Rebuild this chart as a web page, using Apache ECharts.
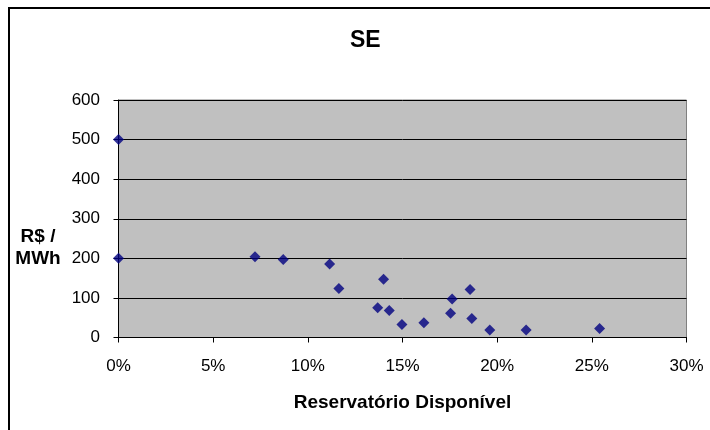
<!DOCTYPE html>
<html>
<head>
<meta charset="utf-8">
<script src="https://cdn.jsdelivr.net/npm/echarts@6/dist/echarts.min.js"></script>
<style>
  html, body { margin: 0; padding: 0; background: #fff; }
  #chart { width: 710px; height: 430px; }
</style>
</head>
<body>
<div id="chart"></div>
<script>
// Reservoir availability (fraction) vs. price (R$/MWh), SE subsystem
const reservatorio = [0.0, 0.0, 0.0721, 0.0870, 0.1115, 0.1164, 0.1369, 0.1400, 0.1430,
                      0.1497, 0.1613, 0.1754, 0.1762, 0.1857, 0.1866, 0.1961, 0.2153, 0.2541];
const preco = [500, 200, 204, 197, 186, 124, 75, 147, 68,
               33, 37, 61, 97, 121, 48, 19, 19, 23];
const yTicks = [0, 100, 200, 300, 400, 500, 600];

const points = reservatorio.map((x, i) => [x, preco[i]]);
const font = 'Liberation Sans, Arial, sans-serif';

const chart = echarts.init(document.getElementById('chart'), null, { renderer: 'canvas' });
chart.setOption({
  animation: false,
  backgroundColor: '#ffffff',
  title: {
    text: 'SE',
    left: 345,
    top: 24,
    textStyle: { fontFamily: font, fontSize: 23, fontWeight: 'bold', color: '#000' }
  },
  graphic: [
    {
      type: 'rect',
      shape: { x: 9, y: 8, width: 900, height: 600 },
      style: { fill: 'none', stroke: '#000', lineWidth: 2 },
      silent: true
    },
    {
      type: 'text',
      style: {
        x: 38,
        y: 247.5,
        text: 'R$ /\nMWh',
        fontFamily: font,
        fontSize: 19,
        fontWeight: 'bold',
        fill: '#000',
        align: 'center',
        verticalAlign: 'middle',
        lineHeight: 22
      }
    }
  ],
  grid: {
    left: 118.5,
    right: 23.5,
    top: 100,
    bottom: 92.5,
    show: true,
    backgroundColor: '#c0c0c0',
    borderColor: '#808080',
    borderWidth: 1
  },
  xAxis: {
    type: 'value',
    min: 0,
    max: 0.3,
    interval: 0.05,
    name: 'Reservatório Disponível',
    nameLocation: 'middle',
    nameGap: 56,
    nameTextStyle: { fontFamily: font, fontSize: 19, fontWeight: 'bold', color: '#000' },
    axisLine: { show: true, onZero: false, lineStyle: { color: '#000', width: 1 } },
    axisTick: { show: true, length: 5, inside: false, lineStyle: { color: '#000' } },
    axisLabel: {
      margin: 20,
      fontFamily: font,
      fontSize: 17,
      color: '#000',
      formatter: v => Math.round(v * 100) + '%'
    },
    splitLine: { show: false }
  },
  yAxis: {
    type: 'value',
    min: yTicks[0],
    max: yTicks[yTicks.length - 1],
    interval: 100,
    axisLine: { show: true, lineStyle: { color: '#000', width: 1 } },
    axisTick: { show: true, length: 5, inside: false, lineStyle: { color: '#000' } },
    axisLabel: { margin: 18.5, fontFamily: font, fontSize: 17, color: '#000' },
    splitLine: { show: true, lineStyle: { color: '#000', width: 1 } }
  },
  series: [{
    type: 'scatter',
    data: points,
    symbol: 'diamond',
    symbolSize: 11,
    itemStyle: { color: '#000080' }
  }]
});
</script>
</body>
</html>
